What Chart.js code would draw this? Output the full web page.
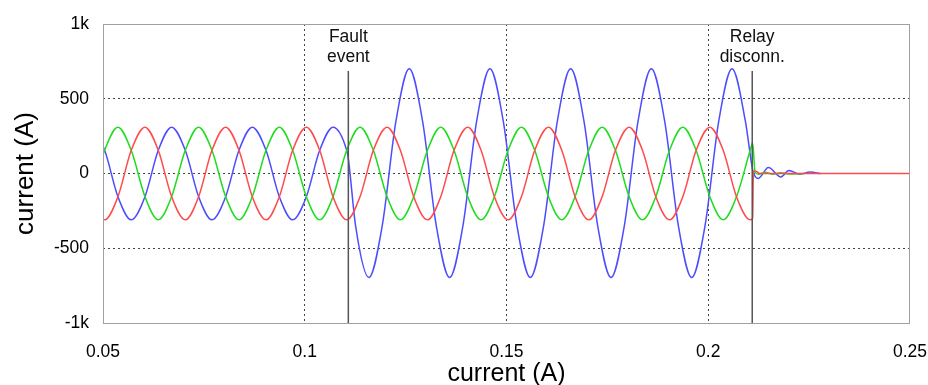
<!DOCTYPE html>
<html>

<head>
    <title>Fault current</title>
    <style>
        body {
            margin: 0px;
            background-color: #ffffff;
        }
    </style>
    <script src="https://cdn.jsdelivr.net/npm/chart.js"></script>
</head>

<body>
    <div style="width: 928px; height: 385px;">
        <canvas id="faultChart"></canvas>
    </div>
</body>
<script>
// axis ticks
const xTickValues = [0.05, 0.1, 0.15, 0.2, 0.25];
const xTickLabels = ['0.05', '0.1', '0.15', '0.2', '0.25'];
const yTickValues = [-1000, -500, 0, 500, 1000];
const yTickLabels = ['-1k', '-500', '0', '500', '1k'];

// event markers
const eventTimes = [0.1108, 0.2109];
const eventLabels = [['Fault', 'event'], ['Relay', 'disconn.']];

// phase A (red), 1/6 cycle spacing
const redTime = [0.0470,
    0.0504, 0.0537, 0.0570, 0.0604, 0.0637, 0.0670,
    0.0704, 0.0737, 0.0770, 0.0804, 0.0837, 0.0870,
    0.0904, 0.0937, 0.0970, 0.1004, 0.1037, 0.1070,
    0.1104, 0.1137, 0.1170, 0.1204, 0.1237, 0.1270,
    0.1304, 0.1337, 0.1370, 0.1404, 0.1437, 0.1470,
    0.1504, 0.1537, 0.1570, 0.1604, 0.1637, 0.1670,
    0.1704, 0.1737, 0.1770, 0.1804, 0.1837, 0.1870,
    0.1904, 0.1937, 0.1970, 0.2004, 0.2037, 0.2070,
    0.2104, 0.2110, 0.2112, 0.2118, 0.2128, 0.2500];
const redCurrent = [-155,
    -310, -155, 155, 310, 155, -155,
    -310, -155, 155, 310, 155, -155,
    -310, -155, 155, 310, 155, -155,
    -310, -155, 155, 310, 155, -155,
    -310, -155, 155, 310, 155, -155,
    -310, -155, 155, 310, 155, -155,
    -310, -155, 155, 310, 155, -155,
    -310, -155, 155, 310, 155, -155,
    -310, -300, 10, 15, 0, 0];

// phase B (green)
const greenTime = [0.0470,
    0.0504, 0.0537, 0.0570, 0.0604, 0.0637, 0.0670,
    0.0704, 0.0737, 0.0770, 0.0804, 0.0837, 0.0870,
    0.0904, 0.0937, 0.0970, 0.1004, 0.1037, 0.1070,
    0.1104, 0.1137, 0.1170, 0.1204, 0.1237, 0.1270,
    0.1304, 0.1337, 0.1370, 0.1404, 0.1437, 0.1470,
    0.1504, 0.1537, 0.1570, 0.1604, 0.1637, 0.1670,
    0.1704, 0.1737, 0.1770, 0.1804, 0.1837, 0.1870,
    0.1904, 0.1937, 0.1970, 0.2004, 0.2037, 0.2070,
    0.2104, 0.2110, 0.2116, 0.2125, 0.2140, 0.2160, 0.2180, 0.2200, 0.2240];
const greenCurrent = [-155,
    155, 310, 155, -155, -310, -155,
    155, 310, 155, -155, -310, -155,
    155, 310, 155, -155, -310, -155,
    155, 310, 155, -155, -310, -155,
    155, 310, 155, -155, -310, -155,
    155, 310, 155, -155, -310, -155,
    155, 310, 155, -155, -310, -155,
    155, 310, 155, -155, -310, -155,
    155, 205, 10, -5, 8, -5, 5, -3, 0];

// phase C (blue) - faulted phase
const blueTime = [0.0470,
    0.0504, 0.0537, 0.0570, 0.0604, 0.0637, 0.0670,
    0.0704, 0.0737, 0.0770, 0.0804, 0.0837, 0.0870,
    0.0904, 0.0937, 0.0970, 0.1004, 0.1037, 0.1070,
    0.1104, 0.1108,
    0.1126, 0.1159, 0.1192, 0.1226, 0.1259, 0.1292,
    0.1326, 0.1359, 0.1392, 0.1426, 0.1459, 0.1492,
    0.1526, 0.1559, 0.1592, 0.1626, 0.1659, 0.1692,
    0.1726, 0.1759, 0.1792, 0.1826, 0.1859, 0.1892,
    0.1926, 0.1959, 0.1992, 0.2026, 0.2059, 0.2092,
    0.2110, 0.2116, 0.2124, 0.2149, 0.2180, 0.2200, 0.2227, 0.2252, 0.2278];
const blueCurrent = [310,
    155, -155, -310, -155, 155, 310,
    155, -155, -310, -155, 155, 310,
    155, -155, -310, -155, 155, 310,
    155, 100,
    -350, -695, -350, 350, 700, 350,
    -350, -695, -350, 350, 700, 350,
    -350, -695, -350, 350, 700, 350,
    -350, -695, -350, 350, 700, 350,
    -350, -695, -350, 350, 700, 350,
    25, -20, -33, 40, -23, 20, -5, 10, 0];

function toPoints(times, values) {
    return times.map((t, i) => ({ x: t, y: values[i] }));
}

const textFont = "'Liberation Sans', Arial, sans-serif";

// box round the plot, event lines and their labels
const framePlugin = {
    id: 'frame',
    afterDatasetsDraw(chart) {
        const { ctx, chartArea, scales } = chart;
        ctx.save();
        ctx.strokeStyle = '#555555';
        ctx.lineWidth = 1.5;
        ctx.fillStyle = '#111111';
        ctx.font = "17.5px " + textFont;
        ctx.textAlign = 'center';
        ctx.textBaseline = 'alphabetic';
        eventTimes.forEach((t, i) => {
            const px = scales.x.getPixelForValue(t);
            ctx.beginPath();
            ctx.moveTo(px, 71);
            ctx.lineTo(px, chartArea.bottom);
            ctx.stroke();
            ctx.fillText(eventLabels[i][0], px, 42);
            ctx.fillText(eventLabels[i][1], px, 62);
        });
        ctx.strokeStyle = '#a0a0a0';
        ctx.lineWidth = 1;
        ctx.strokeRect(chartArea.left + 0.5, chartArea.top + 0.5,
            chartArea.right - chartArea.left - 1, chartArea.bottom - chartArea.top);
        ctx.restore();
    }
};

const lineStyle = {
    borderWidth: 1.5,
    pointRadius: 0,
    fill: false,
    cubicInterpolationMode: 'monotone'
};

new Chart(document.getElementById('faultChart').getContext('2d'), {
    type: 'line',
    data: {
        datasets: [
            Object.assign({ label: 'Ia', data: toPoints(redTime, redCurrent), borderColor: '#ff4b4b' }, lineStyle),
            Object.assign({ label: 'Ib', data: toPoints(greenTime, greenCurrent), borderColor: '#1fdc1f' }, lineStyle),
            Object.assign({ label: 'Ic', data: toPoints(blueTime, blueCurrent), borderColor: '#4d4dff' }, lineStyle)
        ]
    },
    options: {
        responsive: true,
        maintainAspectRatio: false,
        animation: false,
        layout: { padding: { left: 0, top: 24, right: 18, bottom: 0 } },
        plugins: {
            legend: { display: false },
            tooltip: { enabled: false }
        },
        scales: {
            x: {
                type: 'linear',
                min: 0.05,
                max: 0.25,
                afterBuildTicks: s => { s.ticks = xTickValues.map(v => ({ value: v })); },
                afterFit: s => { s.height = 62; s.paddingLeft = 0; s.paddingRight = 0; },
                ticks: {
                    callback: (v, i) => xTickLabels[i],
                    font: { family: textFont, size: 17.5 },
                    color: '#000000',
                    padding: 19,
                    maxRotation: 0,
                    autoSkip: false
                },
                grid: {
                    color: c => (c.index === 0 || c.index === xTickValues.length - 1) ? 'rgba(0,0,0,0)' : '#444444',
                    lineWidth: 1,
                    drawTicks: false
                },
                border: { display: false, dash: [2, 3] },
                title: {
                    display: true,
                    text: 'current (A)',
                    color: '#000000',
                    font: { family: textFont, size: 25, lineHeight: 0.9 },
                    padding: { top: 0, bottom: 0 }
                }
            },
            y: {
                min: -1000,
                max: 1000,
                afterBuildTicks: s => { s.ticks = yTickValues.map(v => ({ value: v })); },
                afterFit: s => { s.width = 103; s.paddingTop = 0; s.paddingBottom = 0; },
                ticks: {
                    callback: (v, i) => yTickLabels[i],
                    font: { family: textFont, size: 17.5 },
                    color: '#000000',
                    padding: 14,
                    autoSkip: false
                },
                grid: {
                    color: c => (c.index === 0 || c.index === yTickValues.length - 1) ? 'rgba(0,0,0,0)' : '#444444',
                    lineWidth: 1,
                    drawTicks: false
                },
                border: { display: false, dash: [2, 3] },
                title: {
                    display: true,
                    text: 'current (A)',
                    color: '#000000',
                    font: { family: textFont, size: 26 },
                    padding: { top: 10, bottom: 0 }
                }
            }
        }
    },
    plugins: [framePlugin]
});
</script>
</html>
